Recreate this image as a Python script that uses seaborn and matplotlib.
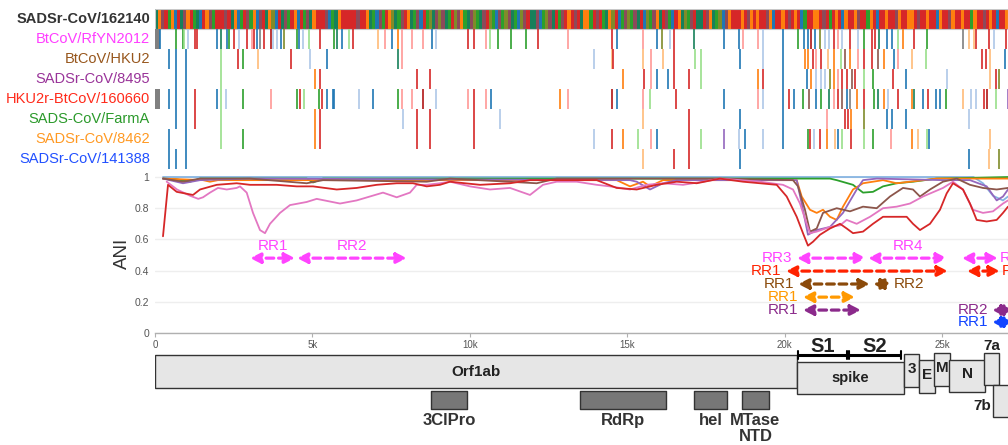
import numpy as np
import pandas as pd
import matplotlib
matplotlib.use("Agg")
import matplotlib.pyplot as plt
import matplotlib.transforms as mtransforms
from matplotlib.patches import Rectangle
import seaborn as sns

# ---------------------------------------------------------------- data
strains = ["SADSr-CoV/162140", "BtCoV/RfYN2012", "BtCoV/HKU2", "SADSr-CoV/8495",
           "HKU2r-BtCoV/160660", "SADS-CoV/FarmA", "SADSr-CoV/8462", "SADSr-CoV/141388"]
label_colors = ["#333333", "#ff3dff", "#97561c", "#993399",
                "#ff2a1a", "#2a992a", "#ff9922", "#2150ff"]

# colour codes used by the variant tracks
code_colors = {'b': '#1f77b4', 'B': '#aec7e8', 'o': '#ff7f0e', 'O': '#ffbb78',
               'g': '#2ca02c', 'G': '#98df8a', 'r': '#d62728', 'R': '#ff9896',
               'n': '#8c564b', 'p': '#9467bd', 'y': '#7f7f7f', 'v': '#7f8b2a',
               't': '#17805a', 'k': '#b01515', 'm': '#8c4a5a'}

# reference genome band: dominant variant colour per 100-bp bin
ref_band = ("tomrgobrtm" "orgtbromgr" "rrmrtobgrm" "gobmrtovbr" "tmgrobrgmt"
            "orrrmbgtor" "rrrrmrrotg" "bmgrovtgmr" "otgmbrgvtm" "vmtgrvmogt"
            "mvgtmrvgbm" "gvmtgbvmrt" "tmbgvmtrgm" "rormrtoogr" "mrgtovrbgm"
            "vgmtrbvgmo" "trmgbrotvg" "mrttrmotgv" "bmorrrormo" "rorrmobrro"
            "rmrorbgrro" "ormrgrorbo" "rromrrgorb" "rrorrmorro" "ormrrorrbo"
            "rrmorrorrg" "orrmrorbrro")
band_bin = 100

# variant positions (kb) + colour code, one string per strain row
row_RfYN2012 = ("0.16b 0.67g 0.89g 0.92G 1.05B 1.27r 1.33r 1.97b 2.10t 2.29b 2.35g 2.51r 2.67B "
                "2.93r 3.08R 3.15r 3.24b 3.34y 3.47r 3.69k 3.75B 3.88B 4.01b 4.10v 4.52g 4.58b "
                "4.71B 4.90G 5.25r 5.69g 5.79t 5.95b 6.17G 6.30r 7.09O 7.31R 7.54b 7.73o 7.85R "
                "8.17R 8.52R 8.81b 8.94B 9.95r 10.14r 10.53R 10.65G 10.91g 11.32g 11.80g 12.18r "
                "13.13R 14.53r 14.69b 15.49R 15.96b 16.12v 16.35B 16.50r 17.11t 18.09b 18.54b "
                "18.67R 19.14R 19.33B 19.94b 20.42g 20.61b 20.73b 20.83k 20.96b 21.12v 21.27B "
                "21.40B 21.56r 21.69R 21.81B 22.07r 22.32B 22.51g 22.77r 22.86r 22.99t 23.25b "
                "23.40b 23.60G 23.75o 24.10r 24.52g 25.66y 25.85O 26.01O 26.08r 26.49r 26.65B 27.03r")
row_HKU2 = ("0.45b 0.67b 0.98b 2.10G 2.64r 2.80g 3.28O 4.32r 4.93B 5.47b 7.73t 7.85R 13.93B "
            "14.53O 14.55r 15.49O 15.77R 16.15O 16.50r 17.14G 17.33G 18.57b 19.33B 19.94b "
            "20.64o 20.73o 20.89r 20.99R 21.15r 21.37O 21.56o 21.78G 21.91n 22.07o 22.32R "
            "22.51r 22.77r 22.96n 23.15o 23.47b 23.60R 24.04O 24.49G 26.27r 26.39r 26.52O 27.00b")
row_8495 = ("0.67b 0.98b 2.10G 5.09o 5.25r 8.33r 8.75r 14.88o 15.52r 15.77R 15.96b 16.31b "
            "16.50r 16.95r 17.33G 19.14o 19.33r 19.94b 20.70b 20.83o 20.99B 21.15B 21.27B "
            "21.43v 21.56o 21.69R 21.81r 21.97r 22.13n 22.23r 22.51G 22.80g 23.44r 23.85b "
            "25.15B 26.52O 26.71r 26.81v")
row_160660 = ("0.45b 0.67b 0.98b 1.27r 1.97b 2.10G 2.26B 2.80g 3.69R 4.52g 4.61r 4.74G 5.22g "
              "5.31r 5.47b 5.66b 5.69b 6.49B 6.93b 7.73g 7.85R 8.17R 8.52k 8.94B 9.95R 10.14r "
              "10.53R 10.68b 12.88o 13.13R 14.53k 14.69b 15.49R 15.71G 16.54r 18.09b 19.14R "
              "19.33B 19.94b 20.13r 20.29b 20.57g 20.77n 20.99b 21.15g 21.40t 21.56R 21.69r "
              "21.81n 21.97b 22.07y 22.29o 22.51r 22.83g 22.96t 23.15o 23.28B 23.60r 24.04o "
              "24.10t 24.39b 24.55r 24.80b 24.93b 25.12g 25.66O 25.92B 26.08B 26.33r 26.43k "
              "26.71G 27.09p")
row_FarmA = ("0.67b 0.98b 1.27r 2.10G 5.09o 5.25r 7.89B 8.33r 8.75r 10.14r 10.97B 15.49O 16.95r "
             "18.57b 19.94b 21.34R 21.91r 22.01r 22.10o 22.51v 23.25b 23.40b 23.85b 25.85B")
row_8462 = ("0.45b 0.98b 2.10G 2.80g 5.09o 5.25r 8.33r 8.75r 10.14r 13.93B 14.53r 14.88o "
            "15.33G 15.77R 15.96b 16.95r 17.33G 18.09p 18.54B 18.73b 19.33B 19.94b 20.73g "
            "20.80r 20.92B 21.12r 21.34o 21.59O 21.69b 21.81G 22.10r 22.51G 22.80g 23.37R "
            "24.04o 24.23O 24.52G 24.58b 26.52O")
row_141388 = "0.45b 0.67b 0.98b 15.49O 16.50r 16.95r 18.57b 25.85b 26.49O 26.81v"
track_rows = [row_RfYN2012, row_HKU2, row_8495, row_160660, row_FarmA, row_8462, row_141388]

# unaligned stretch (grey) at genome start
gap_strain = ["BtCoV/RfYN2012", "HKU2r-BtCoV/160660"]
gap_start = [0, 0]
gap_end = [160, 160]

# sliding-window ANI vs SADSr-CoV/162140 (position bp, ANI)
ani_RfYN2012 = [(372, .97), (700, .92), (1112, .88), (1375, .86), (1525, .87), (1747, .90), (2000, .93),
                (2278, .92), (2595, .93), (2700, .94), (2913, .90), (3113, .77), (3335, .66), (3494, .64),
                (3653, .70), (3971, .77), (4288, .82), (4819, .84), (5137, .86), (5877, .83), (6407, .85),
                (7243, .90), (7678, .87), (8100, .90), (8313, .95), (8631, .95), (9053, .96), (9371, .97),
                (10006, .94), (10642, .92), (11277, .93), (11912, .885), (12325, .95), (12760, .97),
                (13396, .97), (14031, .95), (14454, .94), (15089, .92), (15619, .95), (16137, .96),
                (16773, .95), (17408, .97), (17948, .99), (19219, .97), (19949, .95), (20267, .92),
                (20489, .83), (20702, .70), (20807, .64), (21020, .65), (21442, .68), (21760, .69),
                (21973, .725), (22291, .70), (22713, .745), (23126, .80), (23561, .81), (23983, .83),
                (24396, .875), (25032, .93), (25349, .97), (25667, .92), (25985, .79), (26302, .77),
                (26620, .78), (26938, .83), (27097, .85)]
ani_160660 = [(254, .62), (413, .95), (689, .905), (1207, .885), (1430, .92), (1960, .95), (2595, .96),
              (3018, .95), (3866, .95), (4501, .94), (5019, .94), (5772, .92), (6407, .93), (7043, .95),
              (7678, .96), (8196, .96), (8631, .94), (9053, .95), (9371, .97), (10324, .95), (11277, .96),
              (11912, .98), (12961, .98), (14031, .98), (14666, .93), (15302, .92), (15937, .95),
              (16572, .97), (17208, .96), (17948, .99), (18679, .97), (19219, .96), (19749, .95),
              (20067, .875), (20385, .745), (20584, .64), (20743, .56), (20902, .585), (21125, .63),
              (21442, .67), (21760, .70), (21973, .67), (22173, .64), (22491, .65), (22808, .70),
              (23126, .745), (23879, .745), (24079, .70), (24301, .66), (24619, .70), (24936, .79),
              (25149, .895), (25349, .96), (25667, .92), (25889, .83), (26102, .725), (26420, .715),
              (26738, .725), (26938, .77), (27097, .81)]
ani_HKU2 = [(254, .99), (889, .97), (1430, .99), (3018, .99), (4819, .96), (5337, .98), (8631, .97),
            (9371, .99), (12125, .96), (12760, .99), (17948, .99), (20267, .98), (20426, .94),
            (20648, .79), (20807, .65), (21020, .67), (21220, .77), (21655, .80), (22078, .78),
            (22491, .81), (22926, .80), (23348, .875), (23761, .93), (24079, .92), (24301, .875),
            (24619, .92), (25032, .97), (25467, .99), (25889, .95), (26302, .93), (26738, .92),
            (27097, .93)]
ani_8495 = [(254, .99), (889, .96), (1430, .98), (3018, .99), (15089, .98), (15302, .97), (15724, .92),
            (16137, .96), (16572, .98), (20385, .98), (20543, .83), (20743, .63), (21020, .66),
            (21442, .68), (21855, .77), (22291, .92), (22491, .98), (22926, .99), (25032, .98),
            (25889, .98), (26420, .94), (26738, .85), (26938, .875), (27097, .92)]
ani_8462 = [(254, .99), (1525, .98), (1747, .97), (2000, .98), (14666, .98), (15089, .94), (15502, .97),
            (15724, .94), (16137, .98), (20385, .98), (20543, .875), (20807, .79), (21020, .77),
            (21220, .79), (21442, .745), (21655, .725), (21855, .81), (22173, .92), (22491, .96),
            (23126, .98), (23561, .96), (23983, .97), (24831, .99), (27097, .99)]
ani_FarmA = [(254, .99), (689, .985), (1112, .97), (1430, .99), (4819, .99), (5019, .965), (5337, .99),
             (21442, .99), (21655, .98), (22173, .95), (22491, .90), (22808, .905), (23126, .94),
             (23561, .96), (24079, .97), (24831, .99), (27097, 1.0)]
ani_141388 = [(254, 1.0), (26000, 1.0), (26302, .96), (26620, .88), (26938, .85), (27097, .875)]

ani_series = {"SADSr-CoV/141388": ani_141388, "SADS-CoV/FarmA": ani_FarmA,
              "SADSr-CoV/8462": ani_8462, "SADSr-CoV/8495": ani_8495,
              "BtCoV/HKU2": ani_HKU2, "BtCoV/RfYN2012": ani_RfYN2012,
              "HKU2r-BtCoV/160660": ani_160660}
ani_colors = {"SADSr-CoV/141388": "#86b4e2", "SADS-CoV/FarmA": "#2ca02c",
              "SADSr-CoV/8462": "#ff7f0e", "SADSr-CoV/8495": "#9467bd",
              "BtCoV/HKU2": "#8c564b", "BtCoV/RfYN2012": "#e377c2",
              "HKU2r-BtCoV/160660": "#d62728"}

# recombinant regions
rr_strain = ["BtCoV/RfYN2012"] * 5 + ["HKU2r-BtCoV/160660"] * 2 + ["BtCoV/HKU2"] * 2 + \
            ["SADSr-CoV/8462"] + ["SADSr-CoV/8495"] * 2 + ["SADSr-CoV/141388"]
rr_label = ["RR1", "RR2", "RR3", "RR4", "RR5", "RR1", "RR2", "RR1", "RR2", "RR1", "RR1", "RR2", "RR1"]
rr_start = [3020, 4510, 20390, 22650, 25630, 20040, 25790, 20430, 22810, 20580, 20580, 26590, 26590]
rr_end = [4450, 8000, 22590, 25160, 26780, 25190, 26840, 22710, 23410, 22240, 22430, 27250, 27250]
rr_side = ["above", "above", "left", "above", "right", "left", "right", "left", "right",
           "left", "left", "left", "left"]
rr_colors = {"BtCoV/RfYN2012": "#ff44ff", "HKU2r-BtCoV/160660": "#ff2200",
             "BtCoV/HKU2": "#8b4a0a", "SADSr-CoV/8462": "#ff9900",
             "SADSr-CoV/8495": "#8b2a8b", "SADSr-CoV/141388": "#1144ff"}
rr_level = {"BtCoV/RfYN2012": 0.48, "HKU2r-BtCoV/160660": 0.397, "BtCoV/HKU2": 0.314,
            "SADSr-CoV/8462": 0.23, "SADSr-CoV/8495": 0.147, "SADSr-CoV/141388": 0.07}

# genome annotation
gene_names = ["Orf1ab", "spike", "3", "E", "M", "N", "7a", "7b"]
gene_start = [0, 20390, 23790, 24270, 24750, 25220, 26330, 26620]
gene_end = [20390, 23790, 24270, 24780, 25260, 26370, 26810, 27600]
domain_names = ["3ClPro", "RdRp", "hel", "MTase\nNTD"]
domain_start = [8770, 13500, 17120, 18650]
domain_end = [9910, 16230, 18170, 19500]
sub_names = ["S1", "S2"]
sub_start = [20430, 22050]
sub_end = [21980, 23700]

x_ticks = [0, 5000, 10000, 15000, 20000, 25000]
x_ticklabels = ["0", "5k", "10k", "15k", "20k", "25k"]
y_ticks = [0, 0.2, 0.4, 0.6, 0.8, 1.0]
y_ticklabels = ["0", "0.2", "0.4", "0.6", "0.8", "1"]
x_max = 27097

# ---------------------------------------------------------------- style / layout
sns.set_theme(style="white")
plt.rcParams['font.family'] = ['Liberation Sans', 'DejaVu Sans']

W, H = 1008, 445
fig = plt.figure(figsize=(W / 100, H / 100), dpi=100)
left = 155 / W
width = (W - 155) / W

# layout: gene track vertical extents (pixel-like units in the gene axes)
gene_top = [355, 362, 354, 360, 353, 360, 353, 385]
gene_bot = [388, 394, 387, 393, 386, 392, 385, 417]

# ---------------------------------------------------------------- variant tracks
ax_tr = fig.add_axes([left, (H - 169) / H, width, 160 / H])
ax_tr.set_xlim(0, x_max)
ax_tr.set_ylim(8, 0)
ax_tr.axis("off")

band_colors = [code_colors[c] for c in ref_band]
band_x = np.arange(len(ref_band)) * band_bin
ax_tr.bar(band_x, 1, width=band_bin, bottom=0, align="edge", color=band_colors, linewidth=0)
ax_tr.add_patch(Rectangle((0, 0), x_max, 1, fill=False, edgecolor="#c8c8c8", lw=0.8))

for i, s in enumerate(track_rows, start=1):
    toks = s.split()
    xs = [float(t[:-1]) * 1000 for t in toks]
    cs = [code_colors[t[-1]] for t in toks]
    ax_tr.vlines(xs, i, i + 1, colors=cs, lw=1.2)

for st, gs, ge in zip(gap_strain, gap_start, gap_end):
    r = strains.index(st)
    ax_tr.bar(gs, 1, width=ge - gs, bottom=r, align="edge", color="#808080", linewidth=0)

trans_lbl = mtransforms.blended_transform_factory(ax_tr.transAxes, ax_tr.transData)
for i, (name, col) in enumerate(zip(strains, label_colors)):
    ax_tr.text(-5 / (W - 155), i + 0.5, name, transform=trans_lbl, ha="right", va="center",
               fontsize=10.5, color=col, fontweight="bold" if i == 0 else "normal")

# ---------------------------------------------------------------- ANI panel
ax = fig.add_axes([left, (H - 333) / H, width, (333 - 173.9) / H])
rows = []
for st, pts in ani_series.items():
    for p, v in pts:
        rows.append((st, p, v))
df = pd.DataFrame(rows, columns=["strain", "pos", "ani"])
sns.lineplot(data=df, x="pos", y="ani", hue="strain", hue_order=list(ani_series.keys()),
             palette=ani_colors, estimator=None, sort=False, legend=False, linewidth=1.3, ax=ax)
ax.set_xlim(0, x_max)
ax.set_ylim(0, 1.02)
ax.set_xticks(x_ticks)
ax.set_xticklabels(x_ticklabels)
ax.set_yticks(y_ticks)
ax.set_yticklabels(y_ticklabels)
ax.grid(axis="y", color="#eeeeee", lw=1)
ax.grid(axis="x", visible=False)
for sp in ["top", "right", "left"]:
    ax.spines[sp].set_visible(False)
ax.spines["bottom"].set_color("#b0b0b0")
ax.spines["bottom"].set_linewidth(1)
ax.tick_params(axis="y", length=0, pad=4, labelsize=7.5, labelcolor="#555555")
ax.tick_params(axis="x", length=3, width=0.8, color="#b0b0b0", pad=2, labelsize=7,
               labelcolor="#555555", bottom=True)
ax.set_xlabel("")
ax.set_ylabel("ANI", fontsize=13.5, color="#333333")
ax.yaxis.set_label_coords(-24 / (W - 155), 0.5)

for st, lab, s, e, side in zip(rr_strain, rr_label, rr_start, rr_end, rr_side):
    c = rr_colors[st]
    y = rr_level[st]
    ax.annotate("", xy=(e, y), xytext=(s, y),
                arrowprops=dict(arrowstyle="<|-|>", mutation_scale=15, lw=2.3, ls=(0, (2.4, 1.5)),
                                color=c, shrinkA=0, shrinkB=0), annotation_clip=False)
    if side == "above":
        ax.annotate(lab, xy=((s + e) / 2, y), xytext=(0, 8.5), textcoords="offset points",
                    ha="center", va="center", fontsize=11, color=c)
    elif side == "left":
        ax.annotate(lab, xy=(s, y), xytext=(-3, 0), textcoords="offset points",
                    ha="right", va="center", fontsize=11, color=c)
    else:
        ax.annotate(lab, xy=(e, y), xytext=(1, 0), textcoords="offset points",
                    ha="left", va="center", fontsize=11, color=c, annotation_clip=False)

# ---------------------------------------------------------------- genome annotation
ax_g = fig.add_axes([left, 0, width, 110 / H])
ax_g.patch.set_visible(False)
ax_g.set_xlim(0, x_max)
ax_g.set_ylim(445, 335)
ax_g.axis("off")

for k, (name, s, e, t, b) in enumerate(zip(gene_names, gene_start, gene_end, gene_top, gene_bot)):
    ax_g.add_patch(Rectangle((s, t), e - s, b - t, facecolor="#e6e6e6", edgecolor="#333333", lw=1.0))
    if name == "7a":
        ax_g.text((s + e) / 2, 346, name, ha="center", va="center", fontsize=11,
                  fontweight="bold", color="#222222")
    elif name == "7b":
        ax_g.text(s - 50, 406, name, ha="right", va="center", fontsize=11,
                  fontweight="bold", color="#222222")
    elif name == "Orf1ab":
        ax_g.text((s + e) / 2, (t + b) / 2, name, ha="center", va="center",
                  fontsize=11, fontweight="bold", color="#222222")
    elif name == "spike":
        ax_g.text((s + e) / 2, (t + b) / 2, name, ha="center", va="center",
                  fontsize=10.5, fontweight="bold", color="#222222")
    else:
        ax_g.text((s + e) / 2, (t + b) / 2 - 2, name, ha="center", va="center",
                  fontsize=11, fontweight="bold", color="#222222")

for name, s, e in zip(domain_names, domain_start, domain_end):
    ax_g.add_patch(Rectangle((s, 391), e - s, 18, facecolor="#777777", edgecolor="#333333",
                             lw=1.0, joinstyle="round"))
    ax_g.text((s + e) / 2, 413, name, ha="center", va="top", fontsize=12,
              fontweight="bold", color="#333333", linespacing=1.05)

for name, s, e in zip(sub_names, sub_start, sub_end):
    ax_g.plot([s, e], [355, 355], color="black", lw=2.2, solid_capstyle="butt")
    ax_g.plot([s, s], [351, 359], color="black", lw=1.5)
    ax_g.plot([e, e], [351, 359], color="black", lw=1.5)
    ax_g.text((s + e) / 2, 346, name, ha="center", va="center", fontsize=14.5,
              fontweight="bold", color="#222222")

fig.savefig("out.png", dpi=100)
